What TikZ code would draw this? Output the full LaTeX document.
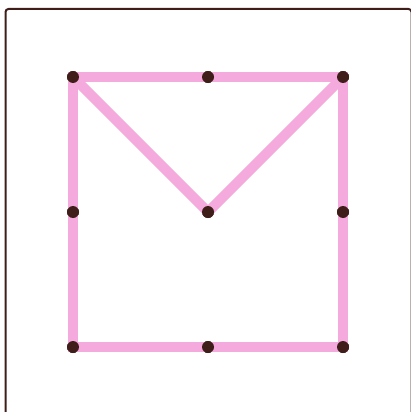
\documentclass[tikz,border=0pt]{standalone}
\usepackage{tikz}
\definecolor{edgepink}{HTML}{F4AADC}
\definecolor{dotbrown}{HTML}{3F1E1A}
\tikzset{
  frame/.style={line width=2pt, draw=dotbrown, rounded corners=3pt},
  edge/.style={line width=10pt, draw=edgepink, line cap=butt},
  pin/.style={circle, fill=dotbrown, inner sep=0pt, minimum size=12pt},
}
\begin{document}
\begin{tikzpicture}[x=1pt, y=-1pt]
  \useasboundingbox (0,0) rectangle (410,412);
  % Rahmen, rechts und unten abgeschnitten
  \draw[frame] (5.5,9) rectangle (411.5,420);
  % Punkte: Ecken, Kantenmitten, Mitte
  \node[pin] (tl) at (73,77) {};
  \node[pin] (tm) at (208,77) {};
  \node[pin] (tr) at (343,77) {};
  \node[pin] (ml) at (73,212) {};
  \node[pin] (mm) at (208,212) {};
  \node[pin] (mr) at (343,212) {};
  \node[pin] (bl) at (73,347) {};
  \node[pin] (bm) at (208,347) {};
  \node[pin] (br) at (343,347) {};
  % Kanten
  \draw[edge, line join=miter] (tl.center) -- (tm.center) -- (tr.center) -- (mr.center) -- (br.center)
    -- (bm.center) -- (bl.center) -- (ml.center) -- cycle;
  \draw[edge, line join=round] (tl.center) -- (mm.center) -- (tr.center);
  % Punkte nochmals oben drauf
  \foreach \p in {tl,tm,tr,ml,mm,mr,bl,bm,br}
    \fill[dotbrown] (\p) circle[radius=6pt];
\end{tikzpicture}
\end{document}
